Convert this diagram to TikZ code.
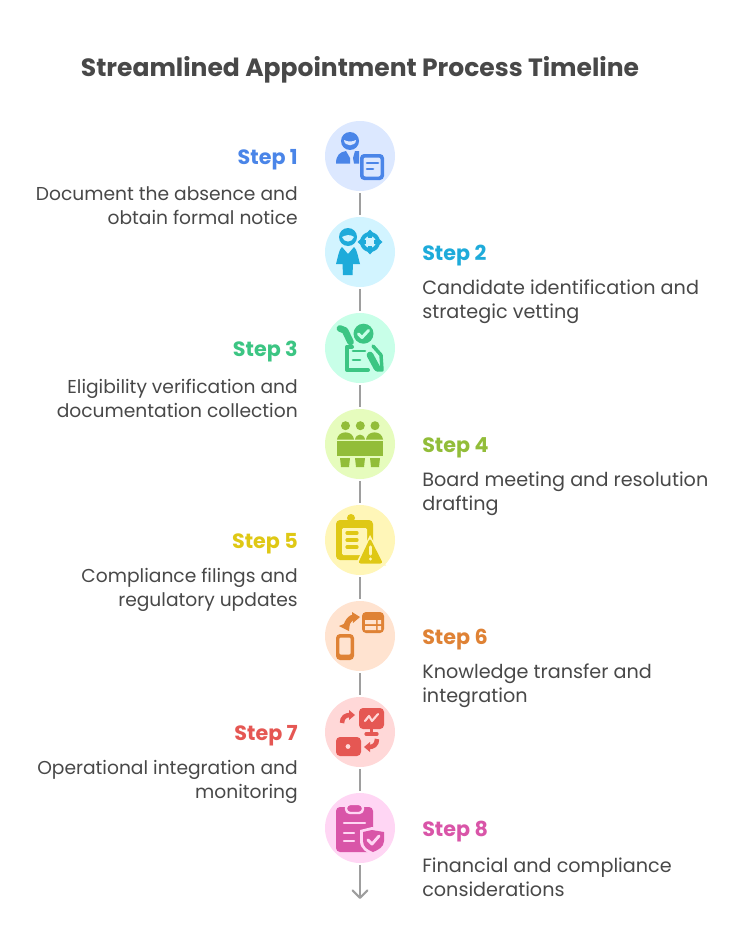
\documentclass[tikz,border=0pt]{standalone}
\usepackage{fontspec}
\setmainfont{Poppins}
\usetikzlibrary{arrows.meta}
\definecolor{ink}{HTML}{484848}
\definecolor{conn}{HTML}{9E9E9E}
\definecolor{bgA}{HTML}{DCE8FF}\definecolor{fgA}{HTML}{4A85E8}
\definecolor{bgB}{HTML}{D2F4FF}\definecolor{fgB}{HTML}{1EABDA}
\definecolor{bgC}{HTML}{C8FFE8}\definecolor{fgC}{HTML}{3CC583}
\definecolor{bgD}{HTML}{E6FCBD}\definecolor{fgD}{HTML}{92BD39}
\definecolor{bgE}{HTML}{FFF6B8}\definecolor{fgE}{HTML}{DFC815}
\definecolor{bgF}{HTML}{FFE3D0}\definecolor{fgF}{HTML}{DF8235}
\definecolor{bgG}{HTML}{FFD8D8}\definecolor{fgG}{HTML}{E55753}
\definecolor{bgH}{HTML}{FFD6F4}\definecolor{fgH}{HTML}{D955A8}
\tikzset{
  disc/.style={circle,minimum size=52.5pt,inner sep=0pt,outer sep=1.5pt,fill=#1},
  linkline/.style={draw=conn,line width=1.7pt},
  steplabel/.style={inner sep=0pt,font=\bfseries\fontsize{15.5pt}{18pt}\selectfont,text=#1},
  bodyleft/.style={inner sep=0pt,align=right,anchor=east,text=ink,font=\fontsize{14pt}{18pt}\selectfont},
  bodyright/.style={inner sep=0pt,align=left,anchor=west,text=ink,font=\fontsize{14.4pt}{18pt}\selectfont},
  ico/.style={line cap=round,line join=round}
}
\begin{document}
\begin{tikzpicture}[x=0.75pt,y=-0.75pt]
\useasboundingbox (0,0) rectangle (744,949);
\fill[white] (0,0) rectangle (744,949);
\node[inner sep=0pt,text=ink,font=\bfseries\fontsize{18.75pt}{22pt}\selectfont] (title) at (360,70) {Streamlined Appointment Process Timeline};
% discs
\node[disc=bgA] (c1) at (360,156) {};
\node[disc=bgB] (c2) at (360,252) {};
\node[disc=bgC] (c3) at (360,348) {};
\node[disc=bgD] (c4) at (360,444) {};
\node[disc=bgE] (c5) at (360,540) {};
\node[disc=bgF] (c6) at (360,636) {};
\node[disc=bgG] (c7) at (360,732) {};
\node[disc=bgH] (c8) at (360,828) {};
\coordinate (end) at (360,899);
\draw[linkline] (c1) -- (c2);
\draw[linkline] (c2) -- (c3);
\draw[linkline] (c3) -- (c4);
\draw[linkline] (c4) -- (c5);
\draw[linkline] (c5) -- (c6);
\draw[linkline] (c6) -- (c7);
\draw[linkline] (c7) -- (c8);
\draw[linkline,-{Straight Barb[length=5.5pt,width=11pt,round]}] (c8) -- (end);
% labels
\node[steplabel=fgA,anchor=east] (s1) at (298,160) {Step 1};
\node[bodyleft] (t1) at (298,206) {Document the absence and\\obtain formal notice};
\node[steplabel=fgB,anchor=west] (s2) at (422,256) {Step 2};
\node[bodyright] (t2) at (422,302) {Candidate identification and\\strategic vetting};
\node[steplabel=fgC,anchor=east] (s3) at (298,352) {Step 3};
\node[bodyleft] (t3) at (298,398) {Eligibility verification and\\documentation collection};
\node[steplabel=fgD,anchor=west] (s4) at (422,448) {Step 4};
\node[bodyright] (t4) at (422,494) {Board meeting and resolution\\drafting};
\node[steplabel=fgE,anchor=east] (s5) at (298,544) {Step 5};
\node[bodyleft] (t5) at (298,590) {Compliance filings and\\regulatory updates};
\node[steplabel=fgF,anchor=west] (s6) at (422,640) {Step 6};
\node[bodyright] (t6) at (422,686) {Knowledge transfer and\\integration};
\node[steplabel=fgG,anchor=east] (s7) at (298,736) {Step 7};
\node[bodyleft] (t7) at (298,782) {Operational integration and\\monitoring};
\node[steplabel=fgH,anchor=west] (s8) at (422,832) {Step 8};
\node[bodyright] (t8) at (422,877) {Financial and compliance\\considerations};
% icon 1
\begin{scope}[shift={(360,156)},ico]
\fill[fgA] (-10,-15) circle (9);
\fill[bgA] (-16,-16) .. controls (-12,-14) and (-8,-14) .. (-4,-16) .. controls (-4,-9) and (-16,-9) .. (-16,-16);
\fill[fgA] (-24,7.5) .. controls (-24,-1) and (-20,-4) .. (-14,-5) -- (-10,2) -- (-10,7.5) -- cycle;
\fill[fgA] (-5,-5) -- (-1,-5) -- (-1,7.5) -- (-6,7.5) -- (-7,2) -- cycle;
\fill[fgA,rounded corners=3] (0,-2) rectangle (24,24);
\fill[bgA,rounded corners=1.5] (3.5,1.5) rectangle (20.5,20.5);
\draw[fgA,line width=2] (7,7) -- (18,7) (7,13) -- (13,13);
\end{scope}
% icon 2
\begin{scope}[shift={(360,252)},ico]
\fill[fgB] (-12,-15) circle (9);
\fill[bgB] (-18,-15) .. controls (-14,-17) and (-10,-18) .. (-6,-15) .. controls (-8,-9) and (-16,-9) .. (-18,-15);
\fill[fgB] (-18,-5) -- (-12,2) -- (-6,-5) .. controls (-3,-3) and (-2,5) .. (0,12) -- (-7,12) -- (-7.5,23) -- (-17,23) -- (-17.5,12) -- (-24,12) .. controls (-22,5) and (-21,-3) .. (-18,-5) -- cycle;
\draw[fgB,line width=3] (10,-10) circle (8);
\draw[fgB,line width=3,line cap=butt] (10,-20) -- (10,-14) (10,-6) -- (10,0) (0,-10) -- (6,-10) (14,-10) -- (20,-10);
\fill[fgB] (-2.5,-10) -- (2,-14) -- (2,-6) -- cycle (22.5,-10) -- (18,-14) -- (18,-6) -- cycle (10,-22.5) -- (6,-18) -- (14,-18) -- cycle (10,2.5) -- (6,-2) -- (14,-2) -- cycle;
\end{scope}
% icon 3
\begin{scope}[shift={(360,348)},ico]
\fill[fgC] (3.5,-14.3) circle (10);
\draw[bgC,line width=2.2] (-1.5,-14) -- (2,-10.5) -- (8.5,-17.5);
\draw[fgC,line width=5] (-20,-19.5) -- (-15,-17.5) -- (-9.5,-6);
\draw[fgC,line width=3] (-8,-1.5) -- (-13,-1.5) -- (-13,22) -- (8,22);
\draw[fgC,line width=2] (-7,3) -- (5,3) (-7,12) -- (0,12);
\draw[fgC,line width=2.6] (13,-2) -- (21,7) -- (22,22) -- (17,22);
\draw[fgC,line width=5] (10,7) -- (17,20);
\end{scope}
% icon 4
\begin{scope}[shift={(360,444)},ico]
\foreach \hx in {-14.5,0.3,15}{\fill[fgD] (\hx,-18.3) circle (4.5);}
\fill[fgD] (-23,-4.5) .. controls (-22,-14) and (-7,-14) .. (-6,-4.5) -- cycle;
\fill[fgD] (-5,-4.5) .. controls (-4,-11) and (4,-11) .. (5,-4.5) -- cycle;
\fill[fgD] (6,-4.5) .. controls (7,-14) and (22,-14) .. (23,-4.5) -- cycle;
\fill[fgD] (-23,-3) rectangle (23,12);
\foreach \lx in {-15,0,15}{\fill[fgD] (\lx-5,14) -- (\lx+5,14) -- (\lx+4,23) -- (\lx-4,23) -- cycle;}
\end{scope}
% icon 5
\begin{scope}[shift={(360,540)},ico]
\fill[fgE,rounded corners=3] (-24,-20) rectangle (13,20);
\fill[fgE] (-9,-22) circle (4);
\fill[bgE,rounded corners=1] (-18,-12) rectangle (7,15);
\draw[fgE,line width=2.4] (-13,-7) -- (-3,-7) (-13,0) -- (-3,0) (-13,7) -- (-3,7);
\fill[bgE] (10,-5) -- (-5,25.5) -- (26,25.5) -- cycle;
\fill[fgE,rounded corners=2] (10,-2) -- (-2,23.5) -- (23,23.5) -- cycle;
\draw[bgE,line width=2.5] (10.5,7) -- (10.5,14);
\fill[bgE] (10.5,19) circle (1.6);
\end{scope}
% icon 6
\begin{scope}[shift={(360,636)},ico]
\fill[fgF,rounded corners=3] (2,-24) rectangle (24,-3);
\fill[bgF] (5,-16) rectangle (16,-12) (17.5,-16) rectangle (21,-12) (5,-10) rectangle (16,-6) (17.5,-10) rectangle (21,-6);
\fill[fgF,rounded corners=3] (-24,-2) rectangle (-6,24);
\fill[bgF,rounded corners=1] (-20.7,1.5) rectangle (-9.3,18.5);
\draw[fgF,line width=4.2,line cap=butt] (-14,-10) .. controls (-12,-15) and (-10,-18) .. (-6,-19);
\fill[fgF] (0,-19) -- (-8,-24) -- (-7,-13) -- cycle;
\fill[fgF] (-21,-10) -- (-10,-14.5) -- (-11,-5) -- cycle;
\end{scope}
% icon 7
\begin{scope}[shift={(360,732)},ico]
\fill[fgG,rounded corners=3] (-1,-24) rectangle (24,-3);
\draw[fgG,line width=2.4] (11.5,-3) -- (11.5,1);
\draw[fgG,line width=2.4] (6,2) -- (17,2);
\draw[bgG,line width=1.6] (5,-11) -- (9,-16) -- (12,-11) -- (18,-18);
\fill[fgG,rounded corners=3] (-24,5) rectangle (1,24);
\fill[bgG] (-12,14.5) circle (2.4);
\draw[fgG,line width=3.4,line cap=butt] (-18,-9) .. controls (-18,-15) and (-14,-17) .. (-10,-17);
\fill[fgG] (-11,-22) -- (-5,-17) -- (-11,-12) -- cycle;
\draw[fgG,line width=3.4,line cap=butt] (17,7) .. controls (17,13) and (13,15) .. (9,15);
\fill[fgG] (10,10) -- (4,15) -- (10,20) -- cycle;
\end{scope}
% icon 8
\begin{scope}[shift={(360,828)},ico]
\fill[fgH,rounded corners=3] (-24,-21) rectangle (13,24);
\fill[fgH,rounded corners=3] (-14,-24) rectangle (3,-15);
\draw[bgH,line width=1.8,rounded corners=3] (-14,-24) rectangle (3,-15);
\draw[bgH,line width=1.8] (-16,-5) -- (5,-5) (-16,5) -- (-6,5) (-16,13) -- (-6,13);
\fill[bgH] (0,2) -- (12,-1) -- (26,2) -- (26,13) .. controls (26,21) and (19,25) .. (13,27) .. controls (7,25) and (0,21) .. (0,13) -- cycle;
\fill[fgH] (3,4) -- (12,2) -- (24,4) -- (24,13) .. controls (24,19) and (18,22) .. (13,24) .. controls (8,22) and (3,19) .. (3,13) -- cycle;
\draw[bgH,line width=2.2] (8,12) -- (12,16) -- (19,8);
\end{scope}
\end{tikzpicture}
\end{document}
